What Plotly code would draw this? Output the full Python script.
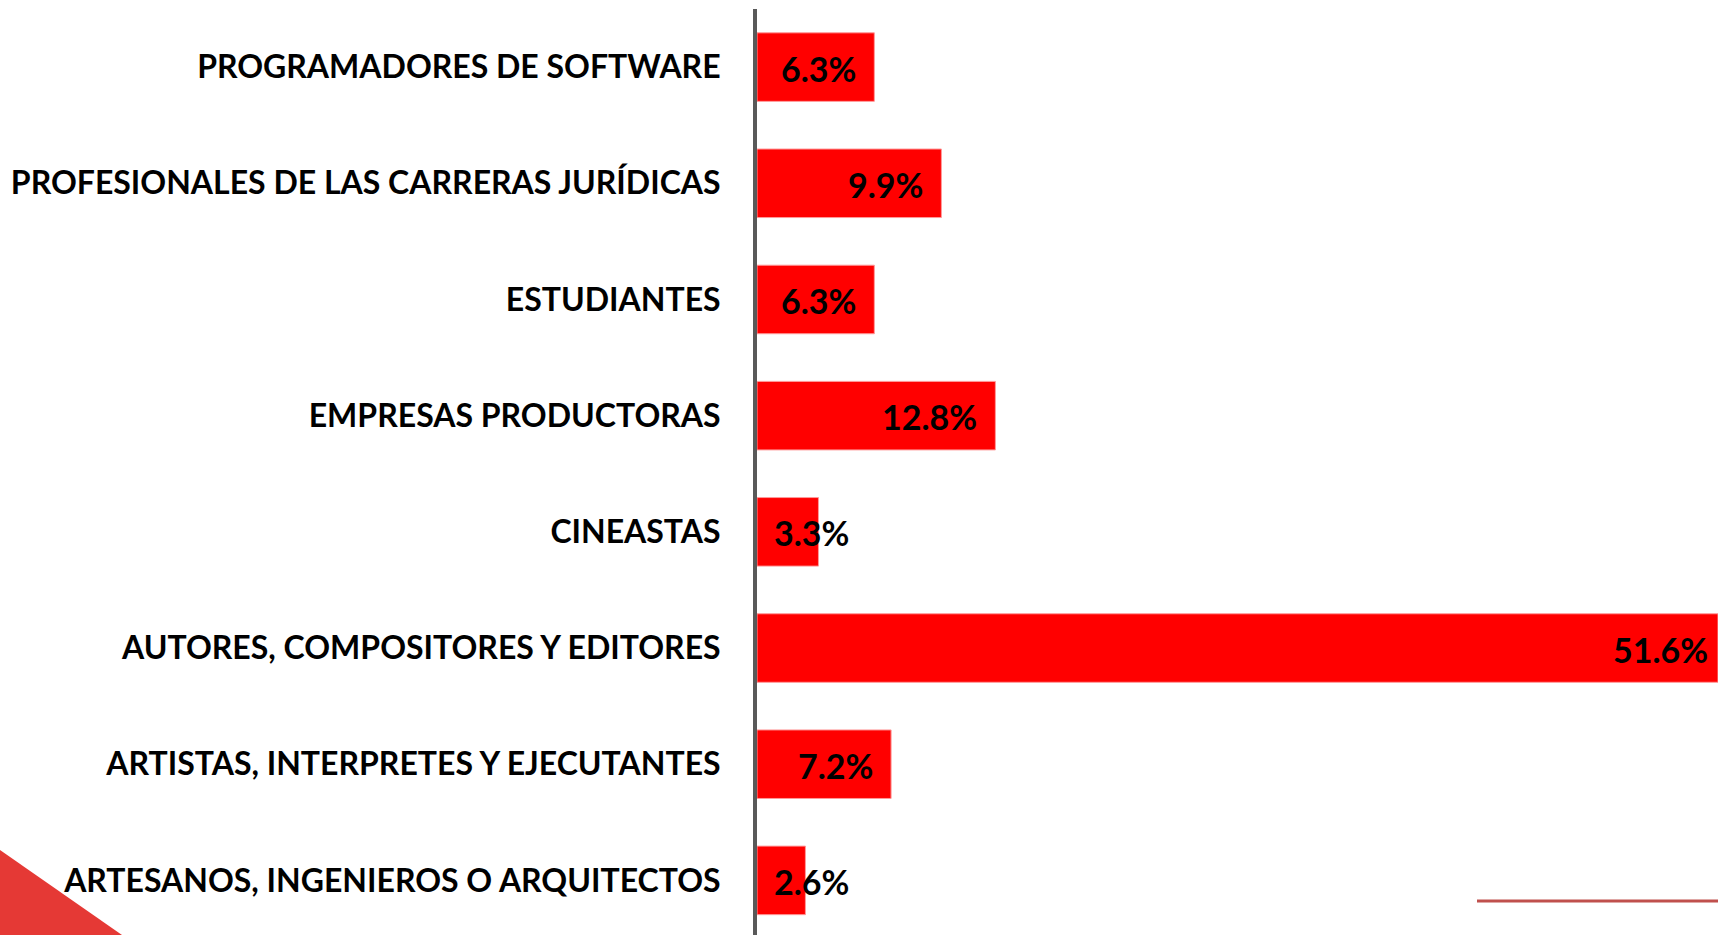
import plotly.graph_objects as go

categories = [
    "PROGRAMADORES DE SOFTWARE",
    "PROFESIONALES DE LAS CARRERAS JURÍDICAS",
    "ESTUDIANTES",
    "EMPRESAS PRODUCTORAS",
    "CINEASTAS",
    "AUTORES, COMPOSITORES Y EDITORES",
    "ARTISTAS, INTERPRETES Y EJECUTANTES",
    "ARTESANOS, INGENIEROS O ARQUITECTOS",
]
values = [6.3, 9.9, 6.3, 12.8, 3.3, 51.6, 7.2, 2.6]
value_labels = ["6.3%", "9.9%", "6.3%", "12.8%", "3.3%", "51.6%", "7.2%", "2.6%"]

W, H = 1718, 935
ML, MR, MT, MB = 757, 0, 9, 0

fig = go.Figure()
fig.add_trace(go.Bar(
    x=values, y=categories, orientation="h",
    marker=dict(color="#FF0000", line=dict(color="#FF9A9A", width=1)),
    width=0.59, hoverinfo="skip",
))

label_font = dict(family="Lato", size=34, color="#000000", weight="bold")
vmax = max(values)
annotations = []
for cat, v, t in zip(categories, values, value_labels):
    if v >= 5:
        annotations.append(dict(x=v, y=cat, xref="x", yref="y", text=t, showarrow=False,
                                xanchor="right", yanchor="middle",
                                xshift=-8 if v == vmax else -16, yshift=-1,
                                font=label_font))
    else:
        annotations.append(dict(x=0, y=cat, xref="x", yref="y", text=t, showarrow=False,
                                xanchor="left", yanchor="middle", xshift=15, yshift=-1,
                                font=label_font))

pw = W - ML - MR
ph = H - MT - MB
def px(xp):
    return (xp - ML) / pw
def py(yp):
    return (H - MB - yp) / ph

shapes = [
    dict(type="path", xref="paper", yref="paper",
         path=f"M {px(0)} {py(850)} L {px(122)} {py(935)} L {px(0)} {py(935)} Z",
         fillcolor="#E53935", line=dict(width=0), layer="above"),
    dict(type="line", xref="paper", yref="paper",
         x0=px(1477), x1=px(1718), y0=py(901), y1=py(901),
         line=dict(color="#C0504D", width=3)),
]

fig.update_layout(
    width=W, height=H,
    margin=dict(l=ML, r=MR, t=MT, b=MB, pad=0),
    paper_bgcolor="white", plot_bgcolor="white",
    showlegend=False,
    annotations=annotations,
    shapes=shapes,
    xaxis=dict(range=[0, 51.6], visible=False, fixedrange=True),
    yaxis=dict(type="category", categoryorder="array", categoryarray=categories,
               range=[7.47, -0.5], showline=True, linecolor="#595959", linewidth=4,
               showgrid=False, zeroline=False, ticks="", ticklabelstandoff=26,
               fixedrange=True,
               tickfont=dict(family="Lato", size=32, color="#000000", weight="bold")),
)

fig.write_html(
    "out.html",
    config={"displayModeBar": False},
    post_script="document.body.style.margin='0';document.body.style.overflow='hidden';",
)
